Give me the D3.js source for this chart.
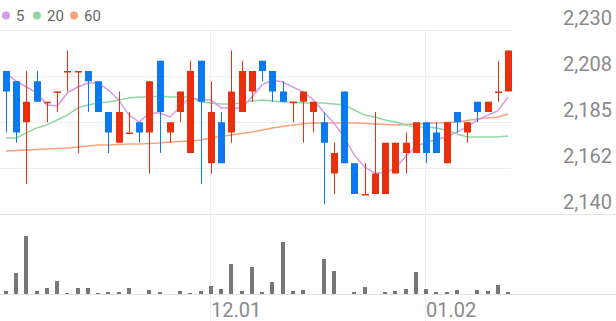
<!DOCTYPE html>
<html>
<head>
<meta charset="utf-8">
<script src="https://cdn.jsdelivr.net/npm/d3@7/dist/d3.min.js"></script>
<style>
  html, body { margin: 0; padding: 0; background: #fff; }
  svg { display: block; font-family: Roboto, "Noto Sans", sans-serif; }
</style>
</head>
<body>
<div class="chart"></div>
<script>
// trading days, Nov 2022 - Jan 2023
var dates = ['11.03','11.04','11.07','11.08','11.09','11.10','11.11','11.14','11.15','11.16',
             '11.17','11.18','11.21','11.22','11.23','11.24','11.25','11.28','11.29','11.30',
             '12.01','12.02','12.05','12.06','12.07','12.08','12.09','12.12','12.13','12.14',
             '12.15','12.16','12.19','12.20','12.21','12.22','12.23','12.26','12.27','12.28',
             '12.29','01.02','01.03','01.04','01.05','01.06','01.09','01.10','01.11','01.12'];

var open  = [2210,2205,2185,2205,2195,2200,2210,2210,2210,2205,
             2190,2175,2180,2185,2180,2215,2180,2190,2170,2215,
             2165,2185,2180,2190,2200,2215,2210,2200,2195,2195,
             2190,2185,2160,2200,2165,2150,2150,2150,2160,2170,
             2170,2185,2180,2165,2190,2180,2195,2190,2200,2200];
var high  = [2210,2205,2210,2210,2195,2200,2220,2210,2210,2205,
             2190,2200,2190,2185,2205,2215,2185,2200,2215,2215,
             2205,2190,2220,2215,2210,2215,2210,2205,2195,2200,
             2195,2190,2175,2200,2165,2165,2190,2175,2175,2180,
             2185,2185,2185,2185,2190,2185,2195,2195,2215,2220];
var low   = [2180,2175,2155,2195,2185,2190,2200,2170,2190,2190,
             2170,2175,2180,2175,2160,2170,2175,2185,2170,2155,
             2160,2165,2175,2190,2195,2205,2195,2195,2185,2175,
             2180,2145,2150,2165,2150,2150,2150,2150,2160,2160,
             2170,2165,2170,2165,2180,2175,2185,2190,2195,2200];
var close = [2200,2180,2195,2195,2195,2200,2210,2210,2205,2190,
             2180,2190,2180,2180,2205,2190,2185,2200,2210,2195,
             2190,2165,2200,2210,2210,2210,2200,2195,2195,2200,
             2195,2175,2170,2165,2150,2150,2160,2175,2175,2175,
             2185,2170,2170,2185,2185,2185,2190,2195,2200,2220];
var volume = [3,21,58,3,6,13,1,6,6,1,
              2,2,6,0,4,2,0,3,1,3,
              8,5,30,3,27,2,12,52,3,4,
              0,35,23,0,2,7,0,2,3,5,
              22,5,2,2,4,0,4,3,9,2];

var ma5  = [2209.0,2205.1,2202.2,2199.3,2193.4,2192.9,2199.3,2202.2,2204.1,2204.1,
            2200.7,2195.9,2188.5,2185.1,2189.5,2189.5,2187.6,2192.4,2197.3,2195.9,
            2195.9,2192.0,2192.0,2192.0,2197.3,2203.2,2205.6,2204.6,2202.2,2199.8,
            2195.9,2190.0,2184.6,2177.8,2169.0,2163.2,2160.2,2160.2,2162.7,2168.3,
            2173.2,2175.1,2176.6,2177.8,2180.2,2182.7,2186.1,2188.5,2190.5,2197.3];
var ma20 = [2177.3,2177.3,2179.8,2182.2,2183.7,2186.1,2188.5,2192.0,2193.4,2194.4,
            2194.9,2195.9,2196.8,2197.3,2197.3,2197.8,2197.3,2197.3,2197.3,2194.9,
            2194.4,2193.9,2193.9,2194.4,2195.4,2195.9,2195.4,2194.9,2194.9,2194.4,
            2194.4,2194.4,2193.9,2193.4,2191.0,2188.5,2187.6,2186.1,2185.1,2183.7,
            2182.7,2182.7,2182.2,2181.2,2179.3,2177.8,2177.8,2177.8,2177.8,2178.3];
var ma60 = [2171.0,2171.2,2171.5,2171.7,2172.0,2172.2,2172.4,2172.9,2173.4,2173.9,
            2173.9,2174.1,2174.4,2174.4,2174.6,2174.9,2175.4,2175.6,2175.9,2176.3,
            2177.3,2178.0,2178.8,2179.5,2180.2,2181.2,2182.2,2182.9,2183.7,2184.1,
            2184.6,2184.6,2184.6,2184.6,2184.6,2184.4,2184.1,2183.9,2183.7,2183.9,
            2184.1,2184.4,2184.6,2184.9,2185.1,2185.9,2186.6,2187.1,2187.6,2189.0];

var priceTicks = [2140, 2162.5, 2185, 2207.5, 2230];
var priceLabels = ['2,140', '2,162', '2,185', '2,208', '2,230'];
var dateTicks = ['12.01', '01.02'];
var maNames = ['5', '20', '60'];
var maColors = ['#d69be8', '#92d7a3', '#f8a37e'];
var upColor = '#e8300e';
var downColor = '#0b79ef';

var width = 616;
var height = 321;
var plotRight = 511;

var svg = d3.select('.chart').append('svg')
    .attr('width', width)
    .attr('height', height);

var x = d3.scalePoint().domain(dates).range([6, 508]);
var y = d3.scaleLinear().domain([2140, 2230]).range([214.5, 30]);
var yVol = d3.scaleLinear().domain([0, 80]).range([294, 214]);

// horizontal grid
svg.selectAll('.grid')
    .data(priceTicks.slice(1))
    .enter()
    .append('line')
    .attr('x1', 0)
    .attr('x2', plotRight)
    .attr('y1', function(d) { return Math.round(y(d)) + 0.5; })
    .attr('y2', function(d) { return Math.round(y(d)) + 0.5; })
    .attr('stroke', '#eeeeee');

// full-width separators
[214.5, 294.5].forEach(function(v) {
    svg.append('line')
        .attr('x1', 0).attr('x2', width)
        .attr('y1', v).attr('y2', v)
        .attr('stroke', '#e4e4e4');
});

// vertical grid at date ticks
svg.selectAll('.vgrid')
    .data(dateTicks)
    .enter()
    .append('line')
    .attr('x1', function(d) { return Math.round(x(d)) - 0.5; })
    .attr('x2', function(d) { return Math.round(x(d)) - 0.5; })
    .attr('y1', 30)
    .attr('y2', height)
    .attr('stroke', '#eeeeee');

// y labels
svg.selectAll('.ylab')
    .data(priceTicks)
    .enter()
    .append('text')
    .text(function(d, i) { return priceLabels[i]; })
    .attr('x', 612)
    .attr('y', function(d) { return y(d) - 5.5; })
    .attr('text-anchor', 'end')
    .attr('font-size', '20px')
    .attr('fill', '#8a8a8a');

// x labels
svg.selectAll('.xlab')
    .data(dateTicks)
    .enter()
    .append('text')
    .text(function(d) { return d; })
    .attr('x', function(d) { return Math.round(x(d)); })
    .attr('y', 317)
    .attr('font-size', '20px')
    .attr('fill', '#8a8a8a');

// volume
svg.selectAll('.vol')
    .data(volume)
    .enter()
    .append('rect')
    .attr('x', function(d, i) { return Math.round(x(dates[i])) - 2; })
    .attr('y', function(d) { return yVol(d); })
    .attr('width', 4)
    .attr('height', function(d) { return yVol(0) - yVol(d); })
    .attr('fill', '#777777');

// moving averages
var line = d3.line()
    .x(function(d, i) { return x(dates[i]); })
    .y(function(d) { return y(d); });

[ma60, ma20, ma5].forEach(function(arr, k) {
    svg.append('path')
        .attr('d', line(arr))
        .attr('fill', 'none')
        .attr('stroke', maColors[2 - k])
        .attr('stroke-width', 1.5);
});

// candles
var candles = svg.selectAll('.candle')
    .data(dates)
    .enter()
    .append('g');

function colorOf(i) {
    return close[i] >= open[i] ? upColor : downColor;
}

candles.append('line')
    .attr('x1', function(d) { return Math.round(x(d)) + 0.5; })
    .attr('x2', function(d) { return Math.round(x(d)) + 0.5; })
    .attr('y1', function(d, i) { return y(high[i]); })
    .attr('y2', function(d, i) { return y(low[i]); })
    .attr('stroke', function(d, i) { return colorOf(i); });

candles.append('rect')
    .attr('x', function(d) { return Math.round(x(d)) - 3; })
    .attr('y', function(d, i) { return y(Math.max(open[i], close[i])); })
    .attr('width', 7)
    .attr('height', function(d, i) {
        return Math.max(1.5, Math.abs(y(open[i]) - y(close[i])));
    })
    .attr('fill', function(d, i) { return colorOf(i); });

// legend
var lx = [6, 37, 74];
var legend = svg.selectAll('.legend')
    .data(maNames)
    .enter()
    .append('g');

legend.append('circle')
    .attr('cx', function(d, i) { return lx[i]; })
    .attr('cy', 15.5)
    .attr('r', 4)
    .attr('fill', function(d, i) { return maColors[i]; });

legend.append('text')
    .text(function(d) { return d; })
    .attr('x', function(d, i) { return lx[i] + 10; })
    .attr('y', 21)
    .attr('font-size', '15px')
    .attr('fill', '#666666');
</script>
</body>
</html>
